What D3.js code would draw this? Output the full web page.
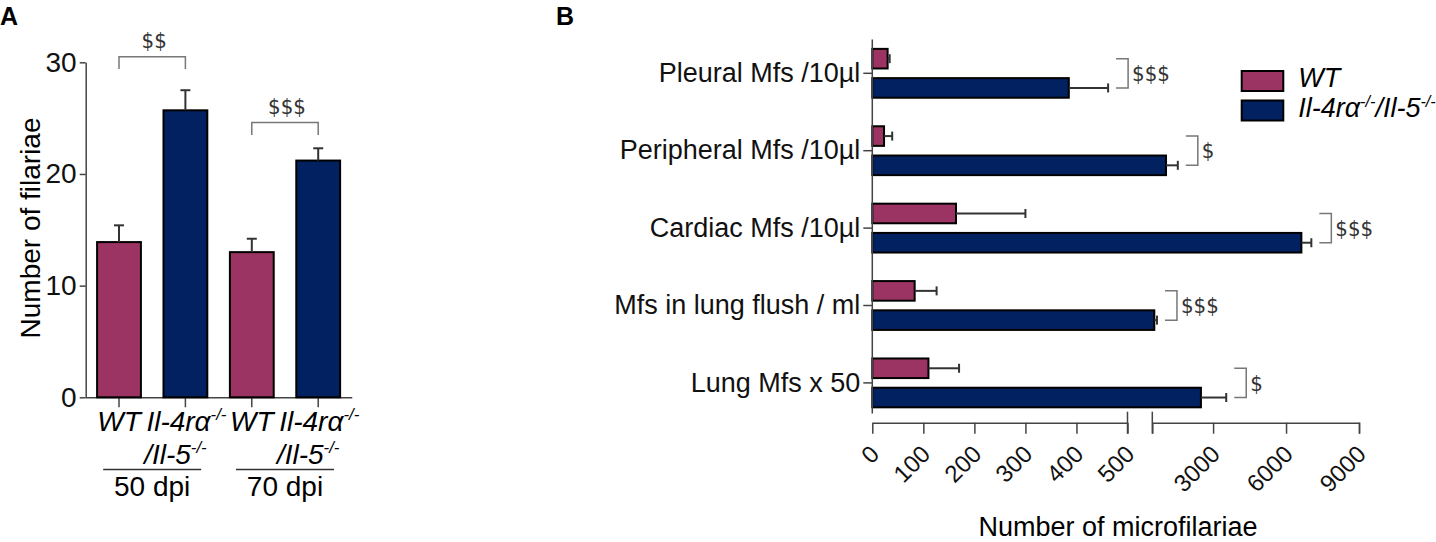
<!DOCTYPE html>
<html lang="en">
<head>
<meta charset="UTF-8">
<title>Filariae and microfilariae counts</title>
<script src="https://d3js.org/d3.v7.min.js"></script>
<style>
  body { margin: 0; background: #fff; }
  svg { display: block; font-family: "Liberation Sans", Arial, sans-serif; }
  .axis path, .axis line { stroke: #444; stroke-width: 1.5; }
  .axis text { fill: #111; }
  .sig { font-family: "Liberation Sans Narrow", "DejaVu Sans Condensed", sans-serif; font-size: 22px; fill: #333; }
  .bracket { fill: none; stroke: #777; stroke-width: 1.5; }
  .err { stroke: #333; stroke-width: 2; }
</style>
</head>
<body>
<svg width="1436" height="542"></svg>
<script>
// ---- panel A data ----
const dpiGroups = ["50 dpi", "70 dpi"];
const wtFilariae = [13.9, 13.0];
const wtFilariaeSem = [1.5, 1.2];
const koFilariae = [25.7, 21.2];
const koFilariaeSem = [1.8, 1.1];
const sigA = ["$$", "$$$"];
const sigTopA = [30.5, 24.6];
const yTicksA = [0, 10, 20, 30];

// ---- panel B data ----
const sites = ["Pleural Mfs /10µl", "Peripheral Mfs /10µl", "Cardiac Mfs /10µl", "Mfs in lung flush / ml", "Lung Mfs x 50"];
const wtMfs = [30, 23, 164, 83, 110];
const wtMfsErr = [4, 16, 136, 43, 60];
const koMfs = [385, 1064, 6630, 582, 2500];
const koMfsErr = [77, 485, 410, 110, 1040];
const sigB = ["$$$", "$", "$$$", "$$$", "$"];
const xTicksLow = [0, 100, 200, 300, 400, 500];
const xTicksHigh = [3000, 6000, 9000];

const wtColor = "#9b3462", koColor = "#022160";
const svg = d3.select("svg");

// genotype label with superscripts
function koLabel(sel, parts, size) {
  parts.forEach(p => {
    if (p.sup) {
      sel.append("tspan").attr("font-size", size * 0.6).attr("dy", -size * 0.38).text(p.t);
    } else {
      sel.append("tspan").attr("font-size", size).attr("dy", p.after ? size * 0.38 : 0).text(p.t);
    }
  });
}

// ================= Panel A =================
const gA = svg.append("g");
const keysA = dpiGroups.flatMap(g => [g + "|WT", g + "|KO"]);
const barsA = dpiGroups.flatMap((g, i) => [
  {key: g + "|WT", v: wtFilariae[i], e: wtFilariaeSem[i], c: wtColor},
  {key: g + "|KO", v: koFilariae[i], e: koFilariaeSem[i], c: koColor}
]);

const xA = d3.scaleBand().domain(keysA).range([85.4, 351.8]).paddingInner(0.34).paddingOuter(0.176);
const yA = d3.scaleLinear().domain([0, 30]).range([397.3, 62.3]);

gA.append("g").attr("class", "axis")
  .attr("transform", "translate(85.7,0)")
  .call(d3.axisLeft(yA).tickValues(yTicksA).tickSize(6).tickSizeOuter(0).tickPadding(3))
  .selectAll("text").attr("font-size", 28);

gA.append("g").attr("class", "axis")
  .attr("transform", "translate(0," + yA(0) + ")")
  .call(d3.axisBottom(xA).tickSize(10).tickSizeOuter(0).tickFormat(""));

gA.selectAll("rect.bar").data(barsA).enter().append("rect")
  .attr("class", "bar")
  .attr("x", d => xA(d.key))
  .attr("width", xA.bandwidth())
  .attr("y", d => yA(d.v))
  .attr("height", d => yA(0) - yA(d.v))
  .attr("fill", d => d.c)
  .attr("stroke", "#000").attr("stroke-width", 2);

const errA = gA.selectAll("g.errA").data(barsA).enter().append("g").attr("class", "errA");
errA.append("line").attr("class", "err")
  .attr("x1", d => xA(d.key) + xA.bandwidth() / 2).attr("x2", d => xA(d.key) + xA.bandwidth() / 2)
  .attr("y1", d => yA(d.v)).attr("y2", d => yA(d.v + d.e));
errA.append("line").attr("class", "err")
  .attr("x1", d => xA(d.key) + xA.bandwidth() / 2 - 5).attr("x2", d => xA(d.key) + xA.bandwidth() / 2 + 5)
  .attr("y1", d => yA(d.v + d.e)).attr("y2", d => yA(d.v + d.e));

// significance brackets A
dpiGroups.forEach((g, i) => {
  const x0 = xA(g + "|WT") + xA.bandwidth() / 2, x1 = xA(g + "|KO") + xA.bandwidth() / 2;
  const yt = yA(sigTopA[i]), yb = yA(sigTopA[i] - 1.1);
  gA.append("path").attr("class", "bracket")
    .attr("d", `M${x0},${yb}V${yt}H${x1}V${yb}`);
  gA.append("text").attr("class", "sig").attr("x", (x0 + x1) / 2 + 2).attr("y", yt - 9)
    .attr("text-anchor", "middle").text(sigA[i]);
});

// category labels A
dpiGroups.forEach((g, i) => {
  const cw = xA(g + "|WT") + xA.bandwidth() / 2, ck = xA(g + "|KO") + xA.bandwidth() / 2;
  gA.append("text").attr("x", cw).attr("y", 431).attr("text-anchor", "middle")
    .attr("font-size", 28).attr("font-style", "italic").text("WT");
  const t1 = gA.append("text").attr("x", ck + 1).attr("y", 431).attr("text-anchor", "middle")
    .attr("font-style", "italic");
  koLabel(t1, [{t: "Il-4rα"}, {t: "-/-", sup: true}], 28);
  const t2 = gA.append("text").attr("x", ck - 10).attr("y", 464).attr("text-anchor", "middle")
    .attr("font-style", "italic");
  koLabel(t2, [{t: "/Il-5"}, {t: "-/-", sup: true}], 28);
  const mid = (cw + ck) / 2;
  gA.append("line").attr("x1", mid - 49).attr("x2", mid + 49).attr("y1", 469.5).attr("y2", 469.5)
    .attr("stroke", "#333").attr("stroke-width", 1.5);
  gA.append("text").attr("x", mid).attr("y", 496).attr("text-anchor", "middle")
    .attr("font-size", 28).text(g);
});

gA.append("text").attr("transform", "translate(40,228) rotate(-90)")
  .attr("text-anchor", "middle").attr("font-size", 28).text("Number of filariae");
gA.append("text").attr("x", 0).attr("y", 25).attr("font-size", 25).attr("font-weight", "bold").text("A");

// ================= Panel B =================
const gB = svg.append("g");
const yB = d3.scaleBand().domain(sites).range([34.6, 421.6]);
const sub = d3.scaleBand().domain(["WT", "KO"]).range([0, yB.bandwidth()]).paddingInner(0.33).paddingOuter(0.488);
const xLow = d3.scaleLinear().domain([0, 500]).range([872.3, 1127.5]);
const xHigh = d3.scaleLinear().domain([500, 9000]).range([1152.3, 1359]);
const xB = v => v <= 500 ? xLow(v) : xHigh(v);
const axisY = 422.7;

const rowsB = sites.flatMap((s, i) => [
  {site: s, g: "WT", v: wtMfs[i], e: wtMfsErr[i], c: wtColor},
  {site: s, g: "KO", v: koMfs[i], e: koMfsErr[i], c: koColor}
]);

gB.selectAll("rect.bar").data(rowsB).enter().append("rect")
  .attr("class", "bar")
  .attr("x", xB(0))
  .attr("y", d => yB(d.site) + sub(d.g))
  .attr("width", d => xB(d.v) - xB(0))
  .attr("height", sub.bandwidth())
  .attr("fill", d => d.c)
  .attr("stroke", "#000").attr("stroke-width", 2);

const errB = gB.selectAll("g.errB").data(rowsB).enter().append("g").attr("class", "errB");
const cy = d => yB(d.site) + sub(d.g) + sub.bandwidth() / 2;
errB.append("line").attr("class", "err")
  .attr("x1", d => xB(d.v)).attr("x2", d => xB(d.v + d.e))
  .attr("y1", cy).attr("y2", cy);
errB.append("line").attr("class", "err")
  .attr("x1", d => xB(d.v + d.e)).attr("x2", d => xB(d.v + d.e))
  .attr("y1", d => cy(d) - 4.5).attr("y2", d => cy(d) + 4.5);

// y axis (categories), offset from the x axis like the original
const yAxisB = gB.append("g").attr("class", "axis")
  .attr("transform", "translate(" + xB(0) + ",0)")
  .call(d3.axisLeft(yB).tickSize(9).tickSizeOuter(0).tickPadding(3));
yAxisB.selectAll("text").attr("font-size", 27);
yAxisB.select(".domain").attr("d", `M0,${yB.range()[0] + 5}V${yB.range()[1] - 8}`);

// broken x axis
function styleTicks(sel) {
  sel.selectAll("text")
    .attr("font-size", 24)
    .attr("x", 0).attr("y", 0).attr("dy", "0.35em")
    .attr("text-anchor", "end")
    .attr("transform", "translate(2,27) rotate(-45)");
}
gB.append("g").attr("class", "axis")
  .attr("transform", "translate(0," + axisY + ")")
  .call(d3.axisBottom(xLow).tickValues(xTicksLow).tickSize(11).tickSizeOuter(0).tickFormat(d3.format("d")))
  .call(styleTicks);
gB.append("g").attr("class", "axis")
  .attr("transform", "translate(0," + axisY + ")")
  .call(d3.axisBottom(xHigh).tickValues(xTicksHigh).tickSize(11).tickSizeOuter(11).tickFormat(d3.format("d")))
  .call(styleTicks);
// break marks
[xLow(500), xHigh(500)].forEach(x => {
  gB.append("line").attr("x1", x).attr("x2", x).attr("y1", axisY - 11).attr("y2", axisY + 11)
    .attr("stroke", "#444").attr("stroke-width", 1.5);
});

gB.append("text").attr("x", 1118).attr("y", 536).attr("text-anchor", "middle")
  .attr("font-size", 27).text("Number of microfilariae");

// significance brackets B
sites.forEach((s, i) => {
  const x0 = xB(Math.max(wtMfs[i] + wtMfsErr[i], koMfs[i] + koMfsErr[i])) + 8;
  const yt = yB(s) + sub("WT") + sub.bandwidth() / 2;
  const yb = yB(s) + sub("KO") + sub.bandwidth() / 2;
  gB.append("path").attr("class", "bracket")
    .attr("d", `M${x0},${yt}H${x0 + 12}V${yb}H${x0}`);
  gB.append("text").attr("class", "sig").attr("x", x0 + 16).attr("y", (yt + yb) / 2)
    .attr("dy", "0.35em").text(sigB[i]);
});

// legend
const legend = gB.append("g").attr("transform", "translate(1241.7,71)");
[{c: wtColor}, {c: koColor}].forEach((d, i) => {
  legend.append("rect").attr("x", 0).attr("y", i * 29.5).attr("width", 41.6).attr("height", 20)
    .attr("fill", d.c).attr("stroke", "#000").attr("stroke-width", 2);
});
legend.append("text").attr("x", 56.5).attr("y", 16).attr("font-size", 27).attr("font-style", "italic").text("WT");
const lk = legend.append("text").attr("x", 56.5).attr("y", 46).attr("font-style", "italic");
koLabel(lk, [{t: "Il-4rα"}, {t: "-/-", sup: true}, {t: "/Il-5", after: true}, {t: "-/-", sup: true}], 27);

gB.append("text").attr("x", 556).attr("y", 25).attr("font-size", 25).attr("font-weight", "bold").text("B");
</script>
</body>
</html>
